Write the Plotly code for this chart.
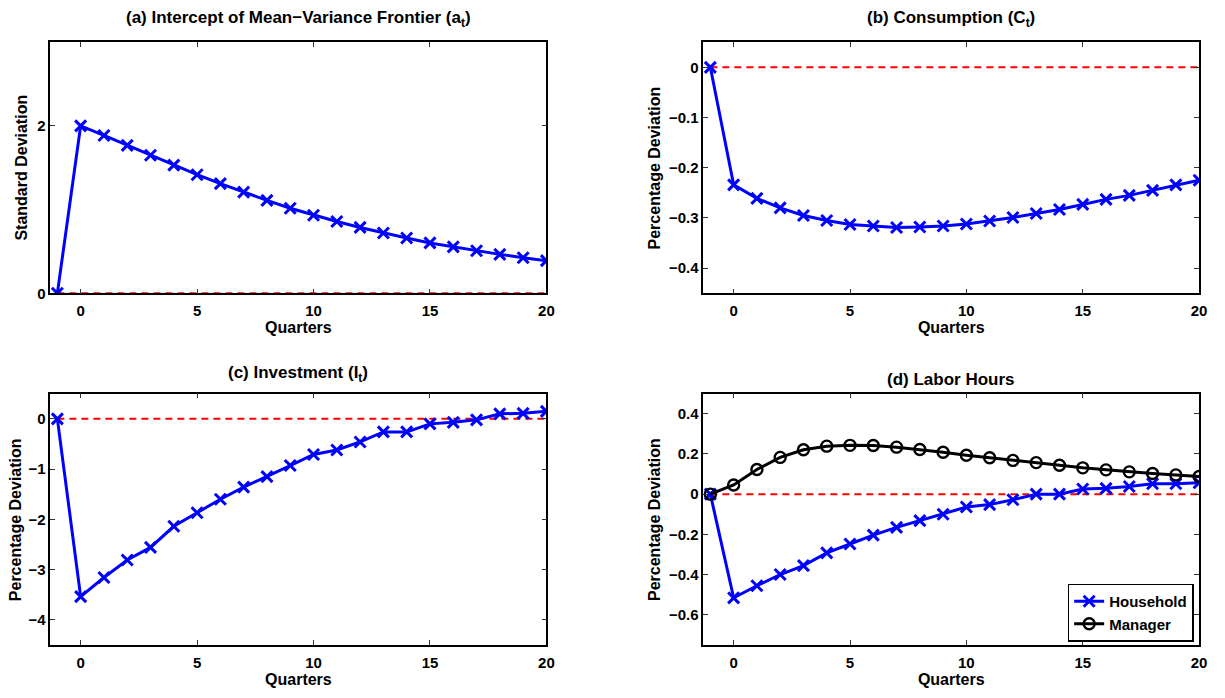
import plotly.graph_objects as go

# Impulse responses, quarters -1..20
quarters = list(range(-1, 21))

intercept_a = [0.0, 2.0, 1.886, 1.768, 1.650, 1.531, 1.417, 1.311, 1.209, 1.110, 1.016,
               0.933, 0.858, 0.787, 0.720, 0.661, 0.602, 0.555, 0.508, 0.465, 0.425, 0.390]

consumption = [0.0, -0.234, -0.261, -0.280, -0.295, -0.305, -0.313, -0.316, -0.319, -0.318,
               -0.316, -0.312, -0.306, -0.299, -0.291, -0.283, -0.273, -0.263, -0.255,
               -0.245, -0.234, -0.225]

investment = [0.0, -3.54, -3.16, -2.81, -2.56, -2.14, -1.87, -1.60, -1.36, -1.15, -0.93,
              -0.71, -0.62, -0.46, -0.26, -0.26, -0.10, -0.07, -0.02, 0.10, 0.11, 0.15]

hours_household = [0.0, -0.516, -0.456, -0.400, -0.356, -0.292, -0.248, -0.204, -0.165,
                   -0.132, -0.100, -0.064, -0.052, -0.028, 0.0, 0.0, 0.026, 0.029, 0.038,
                   0.052, 0.052, 0.057]

hours_manager = [0.0, 0.046, 0.123, 0.183, 0.221, 0.239, 0.243, 0.242, 0.234, 0.222, 0.209,
                 0.194, 0.181, 0.168, 0.157, 0.144, 0.131, 0.121, 0.111, 0.103, 0.096, 0.088]

titles = [
    "(a) Intercept of Mean\u2212Variance Frontier (a<sub>t</sub>)",
    "(b) Consumption (C<sub>t</sub>)",
    "(c) Investment (I<sub>t</sub>)",
    "(d) Labor Hours",
]
y_titles = ["Standard Deviation", "Percentage Deviation", "Percentage Deviation", "Percentage Deviation"]
y_ranges = [[0, 3], [-0.45, 0.05], [-4.5, 0.5], [-0.75, 0.5]]
y_ticks = [[0, 2], [-0.4, -0.3, -0.2, -0.1, 0], [-4, -3, -2, -1, 0], [-0.6, -0.4, -0.2, 0, 0.2, 0.4]]
y_ticktext = [["0", "2"], ["\u22120.4", "\u22120.3", "\u22120.2", "\u22120.1", "0"],
              ["\u22124", "\u22123", "\u22122", "\u22121", "0"],
              ["\u22120.6", "\u22120.4", "\u22120.2", "0", "0.2", "0.4"]]
x_ticks = [0, 5, 10, 15, 20]

W, H = 1225, 698
x_domains = [[50.7 / W, 550.0 / W], [708.0 / W, 1207.0 / W]]
y_domains_top = [(H - 296.7) / H, (H - 42.7) / H]
y_domains_bot = [(H - 652.3) / H, (H - 398.3) / H]
domains = [
    (x_domains[0], y_domains_top),
    (x_domains[1], y_domains_top),
    (x_domains[0], y_domains_bot),
    (x_domains[1], y_domains_bot),
]
title_y_px = [19, 19, 378, 384]
ytitle_x_px = [22, 659, 15, 659]

FONT = "Liberation Sans"
BLUE = "#0000ff"

fig = go.Figure()
layout = {}
annotations = []

series_per_panel = [
    [("Household", intercept_a, BLUE, "x-thin")],
    [("Household", consumption, BLUE, "x-thin")],
    [("Household", investment, BLUE, "x-thin")],
    [("Household", hours_household, BLUE, "x-thin"), ("Manager", hours_manager, "black", "circle-open")],
]

for i in range(4):
    n = "" if i == 0 else str(i + 1)
    xa, ya = "x" + n, "y" + n
    # zero reference line
    fig.add_trace(go.Scatter(
        x=[-1, 20], y=[0, 0], mode="lines", xaxis=xa, yaxis=ya, showlegend=False,
        line=dict(color="#ff0000", width=2, dash="7px,5px"), hoverinfo="skip"))
    for name, vals, col, sym in series_per_panel[i]:
        is_x = sym == "x-thin"
        fig.add_trace(go.Scatter(
            x=quarters, y=vals, mode="lines+markers", name=name, xaxis=xa, yaxis=ya,
            showlegend=(i == 3),
            line=dict(color=col, width=3),
            marker=dict(symbol=sym, size=11 if is_x else 11,
                        color=col, line=dict(color=col, width=3 if is_x else 2.4))))
    xd, yd = domains[i]
    axis_common = dict(
        showline=True, linecolor="black", linewidth=1.5, mirror="ticks",
        ticks="inside", ticklen=5, tickwidth=1.2, tickcolor="#333333",
        showgrid=False, zeroline=False,
        tickfont=dict(family=FONT, size=15, color="black", weight="bold"),
    )
    layout["xaxis" + n] = dict(
        axis_common, domain=xd, anchor=ya, range=[-1.3, 20], tickvals=x_ticks,
        ticklabelstandoff=3,
        title=dict(text="<b>Quarters</b>", font=dict(family=FONT, size=16, color="black"), standoff=0),
    )
    layout["yaxis" + n] = dict(
        axis_common, domain=yd, anchor=xa, range=y_ranges[i], tickvals=y_ticks[i],
        ticktext=y_ticktext[i],
    )
    annotations.append(dict(
        text="<b>" + titles[i] + "</b>", xref="paper", yref="paper",
        x=(xd[0] + xd[1]) / 2, y=(H - title_y_px[i]) / H, xanchor="center", yanchor="middle",
        showarrow=False, font=dict(family=FONT, size=17, color="black")))
    annotations.append(dict(
        text="<b>" + y_titles[i] + "</b>", xref="paper", yref="paper", textangle=-90,
        x=ytitle_x_px[i] / W, y=(yd[0] + yd[1]) / 2, xanchor="center", yanchor="middle",
        showarrow=False, font=dict(family=FONT, size=16, color="black")))

fig.update_layout(
    width=W, height=H,
    margin=dict(l=0, r=0, t=0, b=0),
    paper_bgcolor="white", plot_bgcolor="white",
    annotations=annotations,
    showlegend=True,
    legend=dict(
        x=1201.5 / W, y=(H - 649) / H, xanchor="right", yanchor="bottom",
        bgcolor="white", bordercolor="black", borderwidth=1.5,
        font=dict(family=FONT, size=15, color="black", weight="bold"),
        itemwidth=30, tracegroupgap=0,
    ),
    **layout,
)

fig.write_html("out.html")
